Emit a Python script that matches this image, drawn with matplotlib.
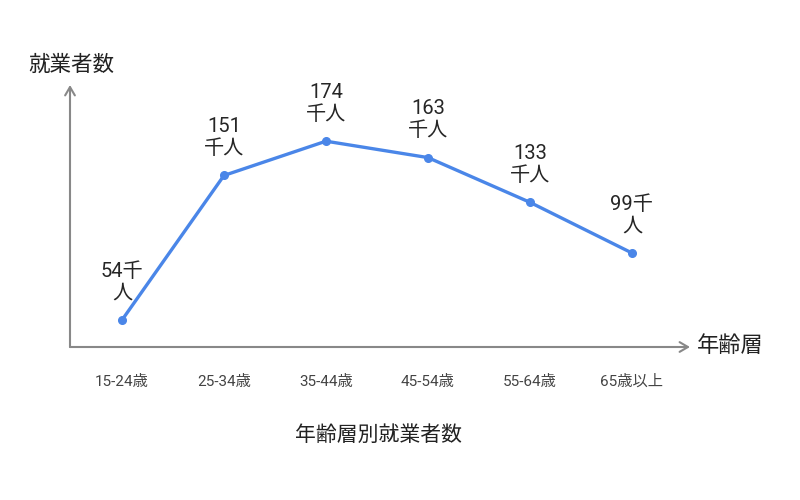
import matplotlib
matplotlib.use("Agg")
import matplotlib.pyplot as plt

categories = ["15-24歳", "25-34歳", "35-44歳", "45-54歳", "55-64歳", "65歳以上"]
values = [54, 151, 174, 163, 133, 99]
labels = ["54千\n人", "151\n千人", "174\n千人", "163\n千人", "133\n千人", "99千\n人"]

FONT = ["Roboto", "Noto Sans CJK JP", "DejaVu Sans"]
plt.rcParams["font.family"] = FONT

fig = plt.figure(figsize=(8, 5), dpi=100)
ax = fig.add_axes([70/800, (500-347)/500, 620/800, 262/500])

x = list(range(len(categories)))
ax.plot(x, values, color="#4a86e8", lw=2.4, marker="o", ms=5.5,
        solid_capstyle="round", zorder=3)

for xi, v, lab in zip(x, values, labels):
    ax.annotate(lab, (xi, v), xytext=(0, 12.5), textcoords="offset points",
                ha="center", va="bottom", fontsize=14.5, color="#262626",
                linespacing=1.2)

ax.set_xlim(-0.51, 5.57)
ax.set_ylim(35.9, 211.7)
ax.set_xticks(x)
ax.set_xticklabels(categories, fontsize=11, color="#444444")
ax.tick_params(axis="x", length=0, pad=20)
ax.set_yticks([])
for s in ax.spines.values():
    s.set_visible(False)

gray = "#888888"
ax.annotate("", xy=(1.0, 0), xytext=(0, 0), xycoords="axes fraction",
            arrowprops=dict(arrowstyle="->,head_length=0.6,head_width=0.35",
                            color=gray, lw=1.5, shrinkA=0, shrinkB=0))
ax.annotate("", xy=(0, 1.0), xytext=(0, 0), xycoords="axes fraction",
            arrowprops=dict(arrowstyle="->,head_length=0.6,head_width=0.35",
                            color=gray, lw=1.5, shrinkA=0, shrinkB=0))

fig.text(28/800, 1 - 65/500, "就業者数", fontsize=15.5, color="#222222",
         ha="left", va="center")
fig.text(697/800, 1 - 346/500, "年齢層", fontsize=16, color="#222222",
         ha="left", va="center")
fig.text(378/800, 1 - 435/500, "年齢層別就業者数", fontsize=15, color="#222222",
         ha="center", va="center")

fig.savefig("out.png", dpi=100)
